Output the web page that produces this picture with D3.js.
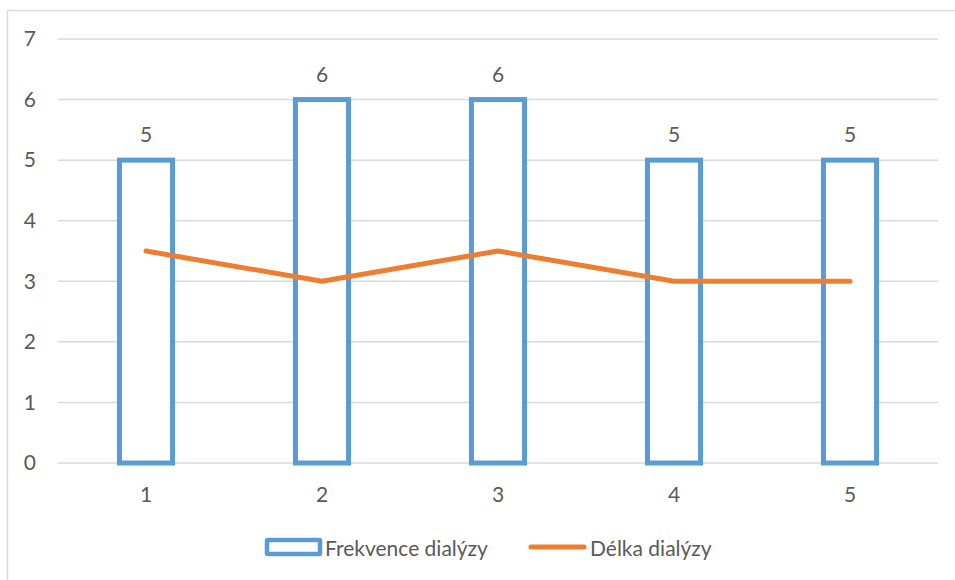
<!DOCTYPE html>
<html>
<head>
<meta charset="utf-8">
<script src="https://cdn.jsdelivr.net/npm/d3@7"></script>
<style>
  html, body { margin: 0; padding: 0; background: #fff; }
  svg { display: block; }
  text { font-family: Lato, "Open Sans", sans-serif; fill: #595959; }
</style>
</head>
<body>
<svg id="chart" width="955" height="580"></svg>
<script>
// Session numbers on the x axis
const categories = ["1", "2", "3", "4", "5"];
// Dialysis frequency (bars)
const frekvence = [5, 6, 6, 5, 5];
// Dialysis length (line)
const delka = [3.5, 3, 3.5, 3, 3];
// Value axis ticks
const yTicks = [0, 1, 2, 3, 4, 5, 6, 7];

const blue = "#5B9BD5";
const orange = "#ED7D31";
const grid = "#D9D9D9";
const fs = 21;

const svg = d3.select("#chart");

// Outer chart frame
svg.append("rect")
  .attr("x", 7.5).attr("y", 10.5)
  .attr("width", 960).attr("height", 600)
  .attr("fill", "#fff").attr("stroke", grid).attr("stroke-width", 1.5);

const plot = { left: 58, right: 938, top: 39, bottom: 463 };

const x = d3.scaleBand()
  .domain(categories)
  .range([plot.left, plot.right])
  .paddingInner(0.67).paddingOuter(0.335);

const y = d3.scaleLinear()
  .domain([0, 7])
  .range([plot.bottom, plot.top]);

// Horizontal gridlines
svg.append("g")
  .selectAll("line")
  .data(yTicks)
  .join("line")
  .attr("x1", plot.left).attr("x2", plot.right)
  .attr("y1", d => y(d)).attr("y2", d => y(d))
  .attr("stroke", grid).attr("stroke-width", 1.5);

// Y axis labels
const yAxis = d3.axisLeft(y).tickValues(yTicks).tickSize(0).tickPadding(0).tickFormat(d3.format("d"));
svg.append("g")
  .attr("transform", `translate(${36},0)`)
  .call(yAxis)
  .call(g => g.select(".domain").remove())
  .call(g => g.selectAll("text")
    .attr("font-size", fs).attr("fill", "#595959")
    .style("font-family", "Lato, 'Open Sans', sans-serif"));

// X axis labels
const xAxis = d3.axisBottom(x).tickSize(0).tickPadding(0);
svg.append("g")
  .attr("transform", `translate(0,${plot.bottom + 24})`)
  .call(xAxis)
  .call(g => g.select(".domain").remove())
  .call(g => g.selectAll("text")
    .attr("font-size", fs).attr("fill", "#595959")
    .style("font-family", "Lato, 'Open Sans', sans-serif"));

// Outlined bars
const sw = 5;
svg.append("g")
  .selectAll("rect")
  .data(frekvence)
  .join("rect")
  .attr("x", (d, i) => x(categories[i]) + sw / 2)
  .attr("y", d => y(d))
  .attr("width", x.bandwidth() - sw)
  .attr("height", d => y(0) - y(d))
  .attr("fill", "#fff")
  .attr("stroke", blue)
  .attr("stroke-width", sw);

// Bar value labels
svg.append("g")
  .selectAll("text")
  .data(frekvence)
  .join("text")
  .attr("x", (d, i) => x(categories[i]) + x.bandwidth() / 2)
  .attr("y", d => y(d) - 18)
  .attr("text-anchor", "middle")
  .attr("font-size", fs)
  .text(d => d);

// Length line
const line = d3.line()
  .x((d, i) => x(categories[i]) + x.bandwidth() / 2)
  .y(d => y(d));
svg.append("path")
  .datum(delka)
  .attr("d", line)
  .attr("fill", "none")
  .attr("stroke", orange)
  .attr("stroke-width", 5)
  .attr("stroke-linejoin", "round")
  .attr("stroke-linecap", "round");

// Legend
const lg = svg.append("g");
lg.append("rect")
  .attr("x", 267).attr("y", 540)
  .attr("width", 53).attr("height", 14)
  .attr("fill", "#fff").attr("stroke", blue).attr("stroke-width", 4.5).attr("rx", 1);
lg.append("text")
  .attr("x", 325).attr("y", 556)
  .attr("font-size", fs)
  .text("Frekvence dialýzy");
lg.append("line")
  .attr("x1", 531).attr("x2", 584)
  .attr("y1", 547).attr("y2", 547)
  .attr("stroke", orange).attr("stroke-width", 5).attr("stroke-linecap", "round");
lg.append("text")
  .attr("x", 590).attr("y", 556)
  .attr("font-size", fs)
  .text("Délka dialýzy");
</script>
</body>
</html>
